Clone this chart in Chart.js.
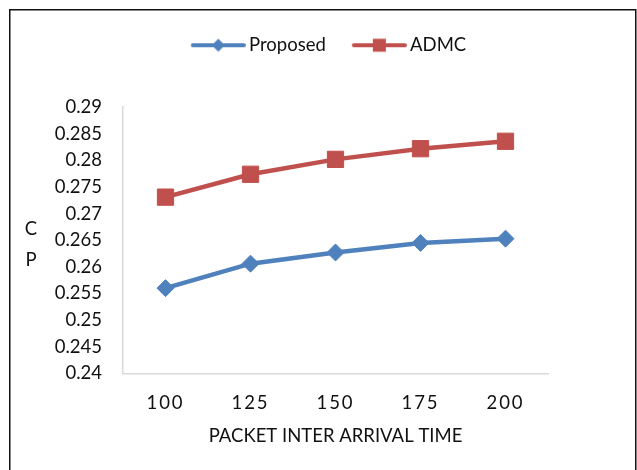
<!DOCTYPE html>
<html>
<head>
<meta charset="utf-8">
<script src="https://cdn.jsdelivr.net/npm/chart.js@4/dist/chart.umd.min.js"></script>
<style>
  html, body { margin: 0; padding: 0; background: #fff; }
  #wrap { width: 637px; height: 470px; }
</style>
</head>
<body>
<div id="wrap"><canvas id="chart" width="637" height="470"></canvas></div>
<script>
// Packet inter arrival time categories and the two CP series
const categories = ['100', '125', '150', '175', '200'];
const proposed = [0.256, 0.2606, 0.2627, 0.2645, 0.2653];
const admc = [0.2731, 0.2774, 0.2802, 0.2822, 0.2836];
const yTickValues = [0.24, 0.245, 0.25, 0.255, 0.26, 0.265, 0.27, 0.275, 0.28, 0.285, 0.29];
const seriesNames = ['Proposed', 'ADMC'];
const yTitleLetters = ['C', 'P'];
const xTitle = 'PACKET INTER ARRIVAL TIME';

const BLUE = '#4F81BD';
const RED = '#C0504D';
const FONT = 'Lato, "Open Sans", sans-serif';
const FS = 18.5;

// legend swatch: a line segment with the series marker in its middle
function legendSwatch(color, marker) {
  const c = document.createElement('canvas');
  c.width = 77; c.height = 18;
  const g = c.getContext('2d');
  const x0 = 22, x1 = 77, cy = 9, cx = (x0 + x1) / 2;
  g.strokeStyle = color; g.lineWidth = 4; g.lineCap = 'round';
  g.beginPath(); g.moveTo(x0 + 2, cy); g.lineTo(x1 - 2, cy); g.stroke();
  g.fillStyle = color;
  g.beginPath();
  if (marker === 'diamond') {
    const r = 6.5;
    g.moveTo(cx - r, cy); g.lineTo(cx, cy - r); g.lineTo(cx + r, cy); g.lineTo(cx, cy + r);
  } else {
    const h = 6.5;
    g.rect(cx - h, cy - h, 2 * h, 2 * h);
  }
  g.closePath(); g.fill();
  return c;
}
const swatches = [legendSwatch(BLUE, 'diamond'), legendSwatch(RED, 'square')];

// outer frame and the stacked y-axis title
const decorations = {
  id: 'decorations',
  afterDraw(chart) {
    const ctx = chart.ctx;
    ctx.save();
    ctx.strokeStyle = '#111';
    ctx.lineWidth = 1.5;
    ctx.strokeRect(9.75, 9.75, 626, 480);
    ctx.fillStyle = '#111';
    ctx.font = FS + 'px ' + FONT;
    ctx.textAlign = 'center';
    ctx.textBaseline = 'alphabetic';
    ctx.fillText(yTitleLetters[0], 31, 235.2);
    ctx.fillText(yTitleLetters[1], 31, 265.7);
    ctx.restore();
  }
};

new Chart(document.getElementById('chart'), {
  type: 'line',
  data: {
    labels: categories,
    datasets: [
      {
        label: seriesNames[0], data: proposed, xAxisID: 'x', yAxisID: 'y',
        borderColor: BLUE, backgroundColor: BLUE, borderWidth: 4.5,
        pointStyle: 'rectRot', pointRadius: 8.5, pointHoverRadius: 8.5,
        pointBackgroundColor: BLUE, pointBorderColor: BLUE, pointBorderWidth: 1,
        tension: 0, fill: false
      },
      {
        label: seriesNames[1], data: admc, xAxisID: 'x', yAxisID: 'y',
        borderColor: RED, backgroundColor: RED, borderWidth: 4.5,
        pointStyle: 'rect', pointRadius: 11.5, pointHoverRadius: 11.5,
        pointBackgroundColor: RED, pointBorderColor: RED, pointBorderWidth: 1,
        tension: 0, fill: false
      }
    ]
  },
  options: {
    responsive: false,
    animation: false,
    devicePixelRatio: 1,
    layout: { padding: { top: 26, left: 4, right: 0, bottom: 0 } },
    plugins: {
      tooltip: { enabled: false },
      legend: {
        position: 'top',
        labels: {
          usePointStyle: true,
          pointStyleWidth: 65,
          padding: 10,
          color: '#111',
          font: { family: FONT, size: FS },
          generateLabels(chart) {
            return chart.data.datasets.map((ds, i) => ({
              text: ds.label,
              pointStyle: swatches[i],
              fillStyle: ds.borderColor,
              strokeStyle: ds.borderColor,
              lineWidth: 0,
              hidden: false,
              datasetIndex: i,
              fontColor: '#111'
            }));
          }
        }
      }
    },
    scales: {
      x: {
        type: 'category',
        position: 'bottom',
        offset: true,
        grid: { display: false, drawTicks: false },
        border: { display: true, color: '#d9d9d9', width: 1.5 },
        ticks: { color: '#111', font: { family: FONT, size: FS }, padding: 19, maxRotation: 0 },
        title: {
          display: true, text: xTitle, color: '#111',
          font: { family: FONT, size: FS }, padding: { top: 0, bottom: 23 }
        },
        afterFit(scale) {
          scale.height = 96.7;
          if (!scale._spacedLabels) {
            const base = scale.drawLabels;
            scale.drawLabels = function (area) {
              const ctx = this.ctx;
              ctx.save();
              ctx.letterSpacing = '2px';
              base.call(this, area);
              ctx.restore();
            };
            scale._spacedLabels = true;
          }
        }
      },
      xTop: {
        type: 'category',
        position: 'top',
        display: true,
        grid: { display: false, drawTicks: false },
        border: { display: false },
        ticks: { display: false },
        afterFit(scale) { scale.height = 42.7; }
      },
      y: {
        type: 'linear',
        position: 'left',
        min: 0.24,
        max: 0.29,
        grid: { display: false, drawTicks: false },
        border: { display: true, color: '#d9d9d9', width: 1.5 },
        ticks: {
          color: '#111',
          font: { family: FONT, size: FS },
          padding: 21,
          callback: (v) => String(Number(v.toFixed(3)))
        },
        afterBuildTicks(scale) {
          scale.ticks = yTickValues.map(v => ({ value: v }));
        },
        afterFit(scale) { scale.width = 119; }
      },
      yRight: {
        type: 'linear',
        position: 'right',
        display: true,
        grid: { display: false, drawTicks: false },
        border: { display: false },
        ticks: { display: false },
        afterFit(scale) { scale.width = 89; }
      }
    }
  },
  plugins: [decorations]
});
</script>
</body>
</html>
